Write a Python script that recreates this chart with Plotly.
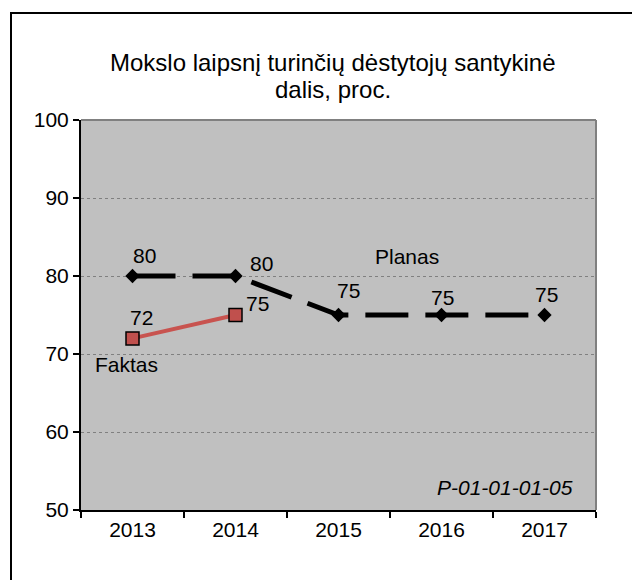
import plotly.graph_objects as go

years = ["2013", "2014", "2015", "2016", "2017"]
planas = [80, 80, 75, 75, 75]
faktas = [72, 75, None, None, None]
title_lines = ["Mokslo laipsnį turinčių dėstytojų santykinė", "dalis, proc."]
y_ticks = [50, 60, 70, 80, 90, 100]

# label offsets in pixels (style only)
planas_off = [(12, -21), (26, -13), (10, -25), (1, -18), (2, -21)]
faktas_off = [(9, -21), (22, -12)]

FONT = "Liberation Sans, Arial, sans-serif"
OFF = 8  # page body margin in the screenshot

fig = go.Figure()
fig.add_trace(go.Scatter(
    x=years, y=planas, mode="lines+markers", name="Planas",
    line=dict(color="black", width=5, dash="43px,17px"),
    marker=dict(symbol="diamond", size=11, color="black"),
))
fig.add_trace(go.Scatter(
    x=years, y=faktas, mode="lines+markers", name="Faktas",
    line=dict(color="#C8534F", width=4),
    marker=dict(symbol="square", size=13, color="#C0504D",
                line=dict(color="black", width=1.5)),
))

ann = []
for i, v in enumerate(planas):
    dx, dy = planas_off[i]
    ann.append(dict(x=i, y=v, xref="x", yref="y", text=str(v), showarrow=False,
                    xanchor="center", yanchor="middle",
                    xshift=dx, yshift=-dy, font=dict(size=21, color="black", family=FONT)))
for i, v in enumerate(faktas):
    if v is None:
        continue
    dx, dy = faktas_off[i]
    ann.append(dict(x=i, y=v, xref="x", yref="y", text=str(v), showarrow=False,
                    xanchor="center", yanchor="middle",
                    xshift=dx, yshift=-dy, font=dict(size=21, color="black", family=FONT)))

W, H = 640, 580
L, T = 81 - OFF, 120 - OFF
R = W - (596 - OFF)
B = H - (510 - OFF)
pw = W - L - R
ph = H - T - B
def px(xp):
    return (xp - OFF - L) / pw
def py(yp):
    return (H - B - (yp - OFF)) / ph

def label(xp, yp, text, size):
    return dict(x=px(xp), y=py(yp), xref="paper", yref="paper", text=text,
                xanchor="center", yanchor="middle", showarrow=False,
                font=dict(size=size, color="black", family=FONT))

ann.append(label(126, 364, "Faktas", 21))
ann.append(label(407, 256, "Planas", 21))
ann.append(label(505, 487, "<i>P-01-01-01-05</i>", 21))
ann.append(label(333, 62, title_lines[0], 24))
ann.append(label(333, 89, title_lines[1], 24))

shapes = [
    dict(type="rect", xref="paper", yref="paper", x0=px(11), x1=px(720), y0=py(720), y1=py(13),
         line=dict(color="black", width=2), fillcolor="rgba(0,0,0,0)", layer="above"),
    dict(type="line", xref="paper", yref="paper", x0=0, x1=1, y0=1, y1=1,
         line=dict(color="#808080", width=2)),
    dict(type="line", xref="paper", yref="paper", x0=1, x1=1, y0=0, y1=1,
         line=dict(color="#808080", width=2)),
]

fig.update_layout(
    width=W, height=H,
    margin=dict(l=L, r=R, t=T, b=B, pad=0),
    paper_bgcolor="white", plot_bgcolor="#C0C0C0",
    showlegend=False,
    font=dict(family=FONT, size=21, color="black"),
    annotations=ann, shapes=shapes,
    xaxis=dict(type="category", tickson="boundaries", ticks="outside", ticklen=6,
               tickcolor="black", tickwidth=1.5, showline=True, linecolor="black", linewidth=2,
               showgrid=False, tickfont=dict(size=21), range=[-0.5, 4.5], fixedrange=True),
    yaxis=dict(range=[50, 100], tickvals=y_ticks, ticks="outside", ticklen=6,
               tickcolor="black", tickwidth=1.5, showline=True, linecolor="black", linewidth=2,
               showgrid=True, gridcolor="#808080", griddash="dot", gridwidth=1,
               zeroline=False, tickfont=dict(size=21), fixedrange=True),
)

fig.write_html("out.html")
